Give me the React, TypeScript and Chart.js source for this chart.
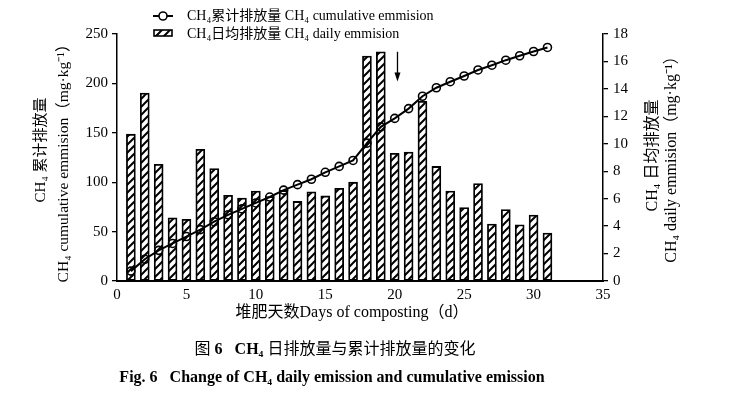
import React, { useEffect, useRef } from "react";
import { Chart, registerables } from "chart.js";

Chart.register(...registerables);

const days = [1, 2, 3, 4, 5, 6, 7, 8, 9, 10, 11, 12, 13, 14, 15, 16, 17, 18, 19, 20, 21, 22, 23, 24, 25, 26, 27, 28, 29, 30, 31];
const dailyEmission = [10.7, 13.7, 8.5, 4.6, 4.5, 9.6, 8.2, 6.25, 6.05, 6.55, 6.15, 6.6, 5.8, 6.5, 6.2, 6.75, 7.2, 16.4, 16.7, 9.3, 9.4, 13.1, 8.35, 6.55, 5.35, 7.1, 4.15, 5.2, 4.1, 4.8, 3.5];
const cumulativeEmission = [10, 22, 31, 38, 45, 52, 60, 67, 73, 79, 85, 92, 97.5, 103, 110, 116, 122, 139.5, 156, 164.6, 174.5, 187, 195.6, 201.7, 207.5, 213.6, 218.4, 223.5, 228, 232.3, 236.4];

const xTicks = { min: 0, max: 35, step: 5 };
const leftTicks = { min: 0, max: 250, step: 50 };
const rightTicks = { min: 0, max: 18, step: 2 };

const legendLine = "CH₄累计排放量 CH₄ cumulative emmision";
const legendBar = "CH₄日均排放量 CH₄ daily emmision";
const leftTitle = ["CH₄ 累计排放量", "CH₄ cumulative emmision（mg·kg⁻¹）"];
const rightTitle = ["CH₄ 日均排放量", "CH₄ daily emmision（mg·kg⁻¹）"];
const xTitle = "堆肥天数Days of composting（d）";
const caption1: [string, boolean][] = [["图 ", false], ["6", true], ["   CH₄ ", true], ["日排放量与累计排放量的变化", false]];
const caption2 = "Fig. 6   Change of CH₄ daily emission and cumulative emission";

const arrowDay = 20.2;
const arrowFrom = 232;
const arrowTo = 202;

const FONT = '"Liberation Serif", "Noto Sans CJK SC", serif';

function makeHatch(): CanvasPattern | string {
  const c = document.createElement("canvas");
  c.width = 8;
  c.height = 8;
  const g = c.getContext("2d");
  if (!g) return "#fff";
  g.fillStyle = "#fff";
  g.fillRect(0, 0, 8, 8);
  g.strokeStyle = "#000";
  g.lineWidth = 2;
  g.beginPath();
  g.moveTo(0, 8);
  g.lineTo(8, 0);
  g.moveTo(-1, 1);
  g.lineTo(1, -1);
  g.moveTo(7, 9);
  g.lineTo(9, 7);
  g.stroke();
  const p = g.createPattern(c, "repeat");
  return p || "#fff";
}

export default function App() {
  const ref = useRef<HTMLCanvasElement | null>(null);

  useEffect(() => {
    document.body.style.margin = "0";
    const canvas = ref.current;
    if (!canvas) return;
    const hatch = makeHatch();

    const drawRot = (ctx: CanvasRenderingContext2D, text: string, cx: number, cy: number) => {
      ctx.save();
      ctx.translate(cx, cy);
      ctx.rotate(-Math.PI / 2);
      ctx.textAlign = "center";
      ctx.textBaseline = "middle";
      ctx.fillText(text, 0, 0);
      ctx.restore();
    };

    const annot = {
      id: "annot",
      afterDraw(chart: any) {
        const ctx: CanvasRenderingContext2D = chart.ctx;
        const sx = chart.scales.x;
        const sl = chart.scales.yL;
        ctx.save();
        ctx.fillStyle = "#000";
        ctx.strokeStyle = "#000";
        // arrow
        const ax = sx.getPixelForValue(arrowDay);
        const ay1 = sl.getPixelForValue(arrowFrom);
        const ay2 = sl.getPixelForValue(arrowTo);
        ctx.lineWidth = 1.3;
        ctx.beginPath();
        ctx.moveTo(ax, ay1);
        ctx.lineTo(ax, ay2 - 6);
        ctx.stroke();
        ctx.beginPath();
        ctx.moveTo(ax - 3, ay2 - 9);
        ctx.lineTo(ax + 3, ay2 - 9);
        ctx.lineTo(ax, ay2);
        ctx.closePath();
        ctx.fill();

        // axis titles
        const cy = (chart.chartArea.top + chart.chartArea.bottom) / 2;
        ctx.font = `15px ${FONT}`;
        drawRot(ctx, leftTitle[0], 41, 150);
        ctx.font = `15.5px ${FONT}`;
        drawRot(ctx, leftTitle[1], 64, cy + 2);
        ctx.font = `16px ${FONT}`;
        drawRot(ctx, rightTitle[0], 653, cy - 2);
        drawRot(ctx, rightTitle[1], 672, cy - 2);
        ctx.textAlign = "center";
        ctx.textBaseline = "middle";
        ctx.fillText(xTitle, 352, 313);

        // legend
        ctx.font = `14px ${FONT}`;
        ctx.lineWidth = 2;
        ctx.beginPath();
        ctx.moveTo(153, 16);
        ctx.lineTo(173, 16);
        ctx.stroke();
        ctx.beginPath();
        ctx.fillStyle = "#fff";
        ctx.arc(163, 16, 4, 0, Math.PI * 2);
        ctx.fill();
        ctx.lineWidth = 1.6;
        ctx.stroke();
        ctx.fillStyle = hatch as any;
        ctx.fillRect(154, 30, 18, 6);
        ctx.strokeRect(154, 30, 18, 6);
        ctx.fillStyle = "#000";
        ctx.textAlign = "left";
        ctx.fillText(legendLine, 187, 16);
        ctx.fillText(legendBar, 187, 34);

        // captions
        ctx.textBaseline = "middle";
        let total = 0;
        for (const [t, b] of caption1) {
          ctx.font = `${b ? "bold " : ""}16px ${FONT}`;
          total += ctx.measureText(t).width;
        }
        let x = 335 - total / 2;
        for (const [t, b] of caption1) {
          ctx.font = `${b ? "bold " : ""}16px ${FONT}`;
          ctx.fillText(t, x, 350);
          x += ctx.measureText(t).width;
        }
        ctx.font = `bold 16px ${FONT}`;
        ctx.textAlign = "center";
        ctx.fillText(caption2, 332, 378);
        ctx.restore();
      },
    };

    const chart = new Chart(canvas, {
      type: "bar",
      data: {
        datasets: [
          {
            type: "line",
            label: legendLine,
            data: days.map((d, i) => ({ x: d, y: cumulativeEmission[i] })),
            yAxisID: "yL",
            borderColor: "#000",
            borderWidth: 2,
            pointRadius: 4,
            pointBorderWidth: 1.6,
            pointBackgroundColor: "rgba(0,0,0,0)",
            pointBorderColor: "#000",
            tension: 0,
            order: 0,
          } as any,
          {
            type: "bar",
            label: legendBar,
            data: days.map((d, i) => ({ x: d, y: dailyEmission[i] })),
            yAxisID: "yR",
            backgroundColor: hatch as any,
            borderColor: "#000",
            borderWidth: 1.8,
            borderSkipped: false,
            barThickness: 9,
            order: 1,
          } as any,
        ],
      },
      options: {
        responsive: false,
        animation: false,
        layout: { padding: { top: 34, left: 0, right: 0, bottom: 0 } },
        font: { family: FONT, size: 14 },
        plugins: { legend: { display: false }, tooltip: { enabled: false }, title: { display: false } },
        scales: {
          x: {
            type: "linear",
            min: xTicks.min,
            max: xTicks.max,
            offset: false,
            grid: { drawOnChartArea: false, drawTicks: false },
            border: { display: true, color: "#000", width: 2 },
            ticks: { stepSize: xTicks.step, color: "#000", padding: 5, font: { family: FONT, size: 15 } },
            afterFit: (s: any) => {
              s.height = 395 - 34 - 247;
            },
          },
          yL: {
            type: "linear",
            position: "left",
            min: leftTicks.min,
            max: leftTicks.max,
            grid: { drawOnChartArea: false, drawTicks: true, tickLength: 5, color: "#000", lineWidth: 1.3 },
            border: { display: true, color: "#000", width: 1.5 },
            ticks: { stepSize: leftTicks.step, color: "#000", padding: 4, font: { family: FONT, size: 15 } },
            afterFit: (s: any) => {
              s.width = 117;
            },
          },
          yR: {
            type: "linear",
            position: "right",
            min: rightTicks.min,
            max: rightTicks.max,
            grid: { drawOnChartArea: false, drawTicks: true, tickLength: 5, color: "#000", lineWidth: 1.3 },
            border: { display: true, color: "#000", width: 1.5 },
            ticks: { stepSize: rightTicks.step, color: "#000", padding: 5, font: { family: FONT, size: 15 } },
            afterFit: (s: any) => {
              s.width = 740 - 603;
            },
          },
        },
      } as any,
      plugins: [annot],
    });
    return () => chart.destroy();
  }, []);

  return (
    <div style={{ width: 740, height: 395, background: "#fff" }}>
      <canvas ref={ref} width={740} height={395} style={{ display: "block" }} />
    </div>
  );
}
